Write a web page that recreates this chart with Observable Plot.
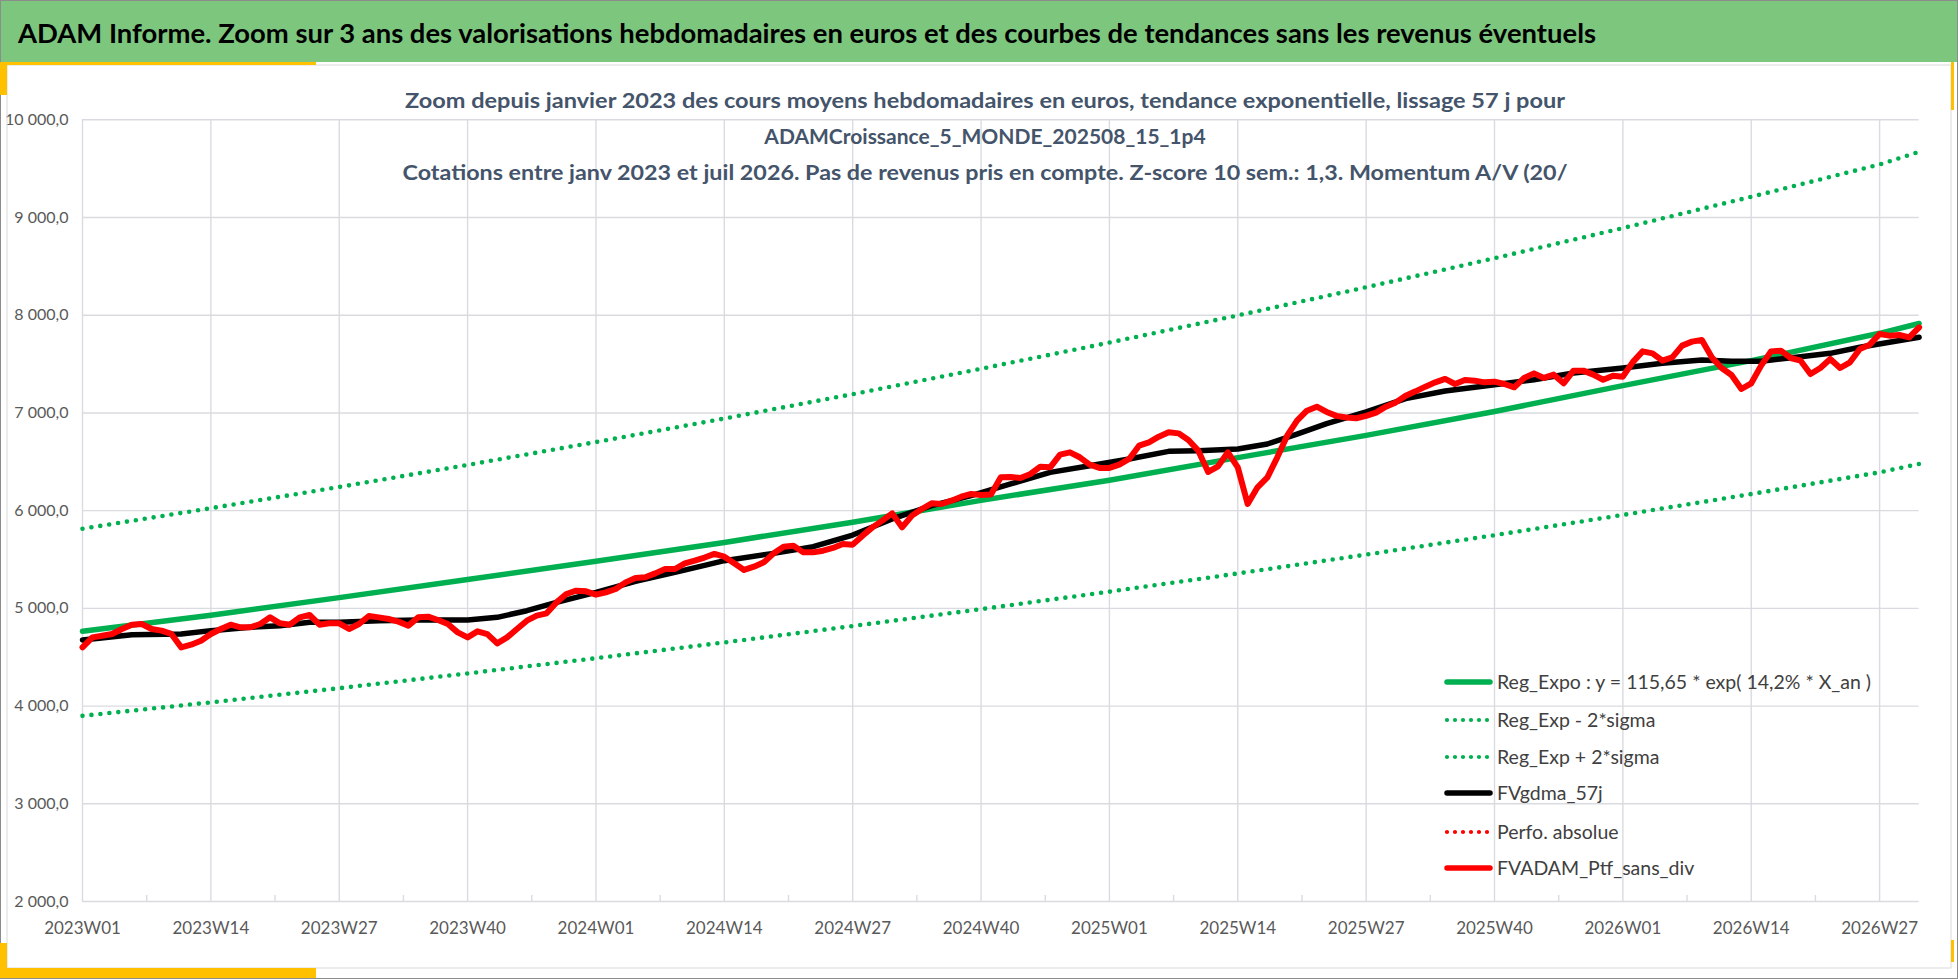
<!DOCTYPE html>
<html>
<head>
<meta charset="utf-8">
<script src="https://cdn.jsdelivr.net/npm/d3@7"></script>
<script src="https://cdn.jsdelivr.net/npm/@observablehq/plot@0.6"></script>
<style>
  body { margin: 0; background: #fff; }
  #page { position: relative; width: 1958px; height: 979px; overflow: hidden; font-family: Lato, "Open Sans", sans-serif; }
  #chart { position: absolute; left: 0; top: 62px; }
  #overlay { position: absolute; left: 0; top: 0; pointer-events: none; }
</style>
</head>
<body>
<div id="page">
  <div id="chart"></div>
  <svg id="overlay" width="1958" height="979"></svg>
</div>
<script>
// axes
const yTicks = [2000, 3000, 4000, 5000, 6000, 7000, 8000, 9000, 10000];
const yLabels = ["2 000,0", "3 000,0", "4 000,0", "5 000,0", "6 000,0", "7 000,0", "8 000,0", "9 000,0", "10 000,0"];
const labelWeeks = [0, 13, 26, 39, 52, 65, 78, 91, 104, 117, 130, 143, 156, 169, 182];
const weekLabels = ["2023W01", "2023W14", "2023W27", "2023W40", "2024W01", "2024W14", "2024W27", "2024W40",
  "2025W01", "2025W14", "2025W27", "2025W40", "2026W01", "2026W14", "2026W27"];
const minorWeeks = [6.5, 19.5, 32.5, 45.5, 58.5, 71.5, 84.5, 97.5, 110.5, 123.5, 136.5, 149.5, 162.5, 175.5];

// tendance exponentielle et bandes +/- 2 sigma
const trendWeeks = [0, 13, 26, 39, 52, 65, 78, 91, 104, 117, 130, 143, 156, 169, 182, 186];
const trendValues = [4765, 4930, 5110, 5295, 5482, 5675, 5882, 6105, 6312, 6543, 6770, 7015, 7280, 7535, 7815, 7915];
const upperValues = [5815, 6025, 6242, 6468, 6702, 6943, 7192, 7452, 7720, 7998, 8286, 8583, 8892, 9212, 9543, 9672];
const lowerValues = [3900, 4038, 4183, 4334, 4490, 4651, 4819, 4992, 5171, 5357, 5550, 5749, 5956, 6170, 6392, 6478];

// lissage 57 j
const smoothWeeks = [0, 5, 10, 13, 17, 20, 23, 26, 30, 34, 39, 42, 45, 48, 52, 56, 60, 63, 65, 70, 74, 78, 82, 86, 90,
  94, 98, 102, 106, 110, 113, 117, 120, 123, 126, 130, 134, 138, 143, 147, 151, 156, 160, 164, 167, 170, 174, 177, 180, 183, 186];
const smoothValues = [4677, 4731, 4738, 4772, 4806, 4823, 4857, 4857, 4874, 4881, 4881, 4908, 4976, 5061, 5164, 5277, 5369, 5440, 5488, 5563, 5631, 5750, 5915, 6051, 6154,
  6273, 6392, 6460, 6529, 6607, 6614, 6631, 6682, 6784, 6890, 7010, 7146, 7224, 7289, 7340, 7408, 7460, 7508, 7542, 7530, 7530, 7576, 7610, 7672, 7723, 7774];

// cours hebdomadaires (une valeur par semaine depuis 2023W01)
const weeklyValues = [
  4601, 4703, 4720, 4738, 4789, 4833, 4840, 4789, 4772, 4738,
  4601, 4628, 4669, 4738, 4789, 4833, 4806, 4806, 4840, 4908,
  4847, 4833, 4908, 4932, 4833, 4847, 4847, 4789, 4840, 4922,
  4908, 4891, 4864, 4823, 4908, 4915, 4881, 4840, 4754, 4703,
  4765, 4737, 4642, 4703, 4789, 4874, 4925, 4949, 5061, 5147,
  5181, 5174, 5140, 5164, 5198, 5266, 5311, 5318, 5358, 5403,
  5403, 5461, 5488, 5520, 5557, 5529, 5461, 5393, 5427, 5471,
  5563, 5631, 5641, 5573, 5573, 5590, 5618, 5659, 5652, 5744,
  5829, 5898, 5972, 5829, 5949, 6017, 6075, 6068, 6102, 6143,
  6171, 6160, 6165, 6341, 6345, 6335, 6375, 6450, 6443, 6573,
  6597, 6546, 6471, 6437, 6437, 6471, 6529, 6665, 6699, 6757,
  6802, 6791, 6723, 6614, 6396, 6454, 6597, 6443, 6069, 6239,
  6341, 6546, 6767, 6921, 7023, 7064, 7010, 6970, 6953, 6946,
  6970, 7004, 7064, 7108, 7176, 7221, 7269, 7313, 7348, 7296,
  7337, 7330, 7313, 7320, 7296, 7262, 7358, 7405, 7358, 7392,
  7303, 7433, 7433, 7392, 7340, 7381, 7371, 7520, 7630, 7610,
  7535, 7569, 7689, 7730, 7747, 7569, 7460, 7388, 7245, 7303,
  7484, 7630, 7637, 7562, 7535, 7398, 7460, 7552, 7460, 7518,
  7655, 7699, 7808, 7791, 7798, 7774, 7876
];

const legendLabels = ["Reg_Expo : y = 115,65 * exp( 14,2% *  X_an )", "Reg_Exp - 2*sigma", "Reg_Exp + 2*sigma",
  "FVgdma_57j", "Perfo. absolue", "FVADAM_Ptf_sans_div"];

const green = "#00b050", red = "#ff0000", gridColor = "#d9dbe0", labelColor = "#595959";

const trend = trendWeeks.map((w, i) => ({week: w, reg: trendValues[i], up: upperValues[i], low: lowerValues[i]}));
const smooth = smoothWeeks.map((w, i) => ({week: w, value: smoothValues[i]}));
const weekly = weeklyValues.map((v, i) => ({week: i, value: v}));

const dotted = {strokeWidth: 4.6, strokeDasharray: "0 9", strokeLinecap: "round"};

const chart = Plot.plot({
  width: 1958,
  height: 917,
  marginLeft: 82,
  marginRight: 39.4,
  marginTop: 57.3,
  marginBottom: 78,
  style: {fontFamily: "Lato, 'Open Sans', sans-serif", background: "transparent"},
  x: {domain: [0, 186]},
  y: {domain: [2000, 10000]},
  marks: [
    Plot.gridY(yTicks, {stroke: gridColor, strokeOpacity: 1, strokeWidth: 1.4}),
    Plot.gridX(labelWeeks, {stroke: gridColor, strokeOpacity: 1, strokeWidth: 1.4}),
    Plot.axisX(minorWeeks, {tickSize: -6, text: null, stroke: gridColor, strokeWidth: 1.4, label: null}),
    Plot.axisY(yTicks, {tickSize: 0, tickPadding: 14, tickFormat: d => yLabels[yTicks.indexOf(d)],
      fontSize: 16, color: labelColor, label: null}),
    Plot.axisX(labelWeeks, {tickSize: 0, tickPadding: 20, tickFormat: d => weekLabels[labelWeeks.indexOf(d)],
      fontSize: 17, color: labelColor, label: null}),
    Plot.line(trend, {x: "week", y: "up", stroke: green, ...dotted}),
    Plot.line(trend, {x: "week", y: "low", stroke: green, ...dotted}),
    Plot.line(trend, {x: "week", y: "reg", stroke: green, strokeWidth: 5.5}),
    Plot.line(smooth, {x: "week", y: "value", stroke: "#000", strokeWidth: 5.5}),
    Plot.line(weekly, {x: "week", y: "value", stroke: red, strokeWidth: 6, strokeLinejoin: "round"})
  ]
});
d3.select("#chart").append(() => chart);

// cadre, bandeau, titres, légende
const svg = d3.select("#overlay");
svg.append("rect").attr("x", 1).attr("y", 1).attr("width", 1956).attr("height", 61).attr("fill", "#7dc67e");
svg.append("rect").attr("x", 7).attr("y", 65).attr("width", 1944).attr("height", 903)
  .attr("fill", "none").attr("stroke", "#d9d9d9");
svg.append("rect").attr("x", 0.5).attr("y", 0.5).attr("width", 1957).attr("height", 978)
  .attr("fill", "none").attr("stroke", "#8c8c8c");
const gold = "#ffc000";
[[0, 62, 316, 3], [0, 62, 7, 33], [0, 968, 316, 10], [0, 943, 7, 35], [1951, 62, 3, 48], [1951, 940, 3, 22]]
  .forEach(([x, y, w, h]) => svg.append("rect").attr("x", x).attr("y", y).attr("width", w).attr("height", h).attr("fill", gold));

svg.append("text").attr("x", 18).attr("y", 43)
  .attr("font-size", 27).attr("font-weight", 700).attr("fill", "#000")
  .attr("textLength", 1578).attr("lengthAdjust", "spacingAndGlyphs")
  .text("ADAM Informe. Zoom sur 3 ans des valorisations hebdomadaires en euros et des courbes de tendances sans les revenus éventuels");

const subtitles = [
  {t: "Zoom depuis janvier 2023 des cours moyens hebdomadaires  en euros, tendance exponentielle, lissage 57 j pour", y: 108, len: 1160},
  {t: "ADAMCroissance_5_MONDE_202508_15_1p4", y: 144, len: null},
  {t: "Cotations  entre janv 2023 et juil 2026. Pas de revenus pris en compte. Z-score 10 sem.: 1,3. Momentum A/V (20/", y: 180, len: 1165}
];
subtitles.forEach(s => {
  const t = svg.append("text").attr("x", 985).attr("y", s.y).attr("text-anchor", "middle")
    .attr("font-size", 21).attr("font-weight", 700).attr("fill", "#44546a").text(s.t);
  if (s.len) t.attr("textLength", s.len).attr("lengthAdjust", "spacingAndGlyphs");
});

const legendStyles = [
  {stroke: green, dash: null}, {stroke: green, dash: "0 8"}, {stroke: green, dash: "0 8"},
  {stroke: "#000", dash: null}, {stroke: red, dash: "0 8"}, {stroke: red, dash: null}
];
const legendY = [682, 720, 757, 793, 832, 868];
legendLabels.forEach((label, i) => {
  const st = legendStyles[i];
  const ln = svg.append("line").attr("x1", 1447).attr("x2", 1490).attr("y1", legendY[i]).attr("y2", legendY[i])
    .attr("stroke", st.stroke).attr("stroke-linecap", "round");
  if (st.dash) ln.attr("stroke-width", 4.2).attr("stroke-dasharray", st.dash);
  else ln.attr("stroke-width", 5.5);
  svg.append("text").attr("x", 1497).attr("y", legendY[i]).attr("dy", "0.35em")
    .attr("font-size", 19.5).attr("fill", "#404040").text(label);
});
</script>
</body>
</html>
